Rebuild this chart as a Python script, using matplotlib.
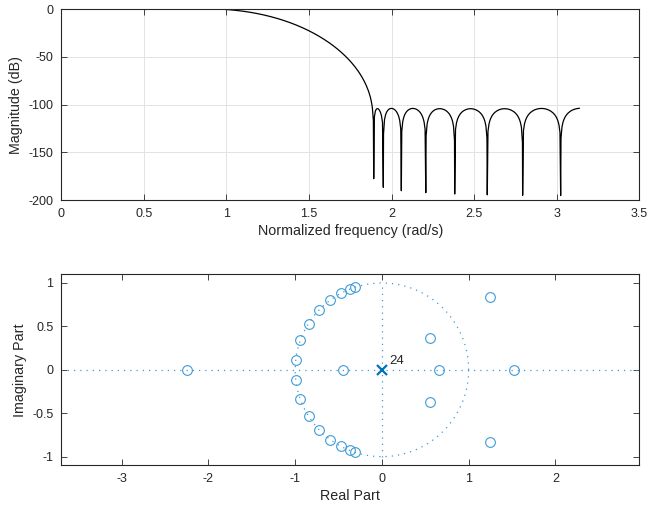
import numpy as np
import matplotlib
matplotlib.use("Agg")
import matplotlib.pyplot as plt

plt.rcParams['font.family'] = ['Liberation Sans', 'DejaVu Sans']
plt.rcParams['axes.unicode_minus'] = False

# zeros
uc_angles = [1.892, 1.950, 2.059, 2.207, 2.382, 2.579, 2.793, 3.023]   # unit-circle zeros (rad)
uc_radius = 1 - 2e-6
real_zeros = [-2.25, -0.445, 0.66, 1.52]
cplx_zeros = [0.555 + 0.372j, 1.245 + 0.835j]
n_poles = 24
n_freq = 512

zeros = [uc_radius * np.exp(1j * a) for a in uc_angles]
zeros += [np.conj(z) for z in zeros]
zeros += [complex(r) for r in real_zeros]
zeros += list(cplx_zeros) + [np.conj(z) for z in cplx_zeros]
zeros = np.array(zeros)

# magnitude response from the zeros (freqz grid + the null frequencies, 0 dB at DC)
w = np.sort(np.concatenate([np.arange(n_freq) * np.pi / n_freq, uc_angles]))
H = np.prod(np.exp(1j * w)[:, None] - zeros[None, :], axis=1)
H0 = np.prod(1 - zeros)
mag_db = 20 * np.log10(np.abs(H) / np.abs(H0))

txt = '#262626'
fig = plt.figure(figsize=(6.47, 5.11), dpi=100)

def style(ax):
    for s in ax.spines.values():
        s.set_color(txt)
        s.set_linewidth(0.8)
    ax.tick_params(direction='in', length=4, width=0.6, colors=txt,
                   labelsize=9, top=True, right=True, pad=5.5)

ax1 = fig.add_axes([0.0943, 0.6086, 0.8941, 0.3732])
ax1.plot(w, mag_db, color='black', lw=0.9)
ax1.set_xlim(0, 3.5)
ax1.set_ylim(-200, 0)
ax1.set_xticks(np.arange(0, 3.51, 0.5))
ax1.set_xticklabels(['0', '0.5', '1', '1.5', '2', '2.5', '3', '3.5'])
ax1.set_yticks([-200, -150, -100, -50, 0])
ax1.grid(True, color='#e3e3e3', lw=0.7)
ax1.set_axisbelow(True)
ax1.set_xlabel('Normalized frequency (rad/s)', fontsize=10.3, color=txt, labelpad=3)
ax1.set_ylabel('Magnitude (dB)', fontsize=10.3, color=txt, labelpad=4)
style(ax1)

ax2 = fig.add_axes([0.0943, 0.0894, 0.8941, 0.3738])
blue = '#3f9bd7'
t = np.linspace(0, 2 * np.pi, 300)
ax2.plot(np.cos(t), np.sin(t), ls=(0, (1, 4)), color=blue, lw=0.9)
ax2.plot([-3.7, 2.97], [0, 0], ls=(0, (1, 4)), color=blue, lw=0.9)
ax2.plot([0, 0], [-1, 1], ls=(0, (1, 4)), color=blue, lw=0.9)
ax2.plot(zeros.real, zeros.imag, 'o', mfc='none', mec=blue, ms=7, mew=0.8)
ax2.plot([0], [0], 'x', color='#0072BD', ms=7, mew=1.6)
ax2.text(0.09, 0.03, str(n_poles), fontsize=9.5, color=txt, va='bottom', ha='left')
ax2.set_xlim(-3.7, 2.97)
ax2.set_ylim(-1.1, 1.1)
ax2.set_xticks([-3, -2, -1, 0, 1, 2])
ax2.set_yticks([-1, -0.5, 0, 0.5, 1])
ax2.set_yticklabels(['-1', '-0.5', '0', '0.5', '1'])
ax2.set_xticklabels(['-3', '-2', '-1', '0', '1', '2'])
ax2.set_xlabel('Real Part', fontsize=10.3, color=txt, labelpad=3)
ax2.set_ylabel('Imaginary Part', fontsize=10.3, color=txt, labelpad=4)
style(ax2)

fig.savefig('out.png', dpi=100)
